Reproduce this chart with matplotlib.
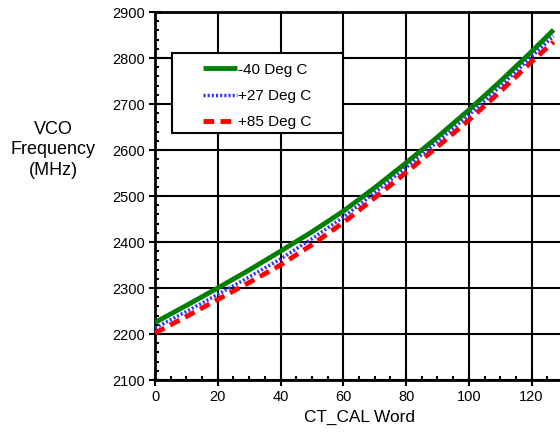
import matplotlib
matplotlib.use("Agg")
import matplotlib.pyplot as plt
from matplotlib.ticker import MultipleLocator
from matplotlib.patches import Rectangle

ct_cal = [0, 10, 20, 30, 40, 50, 60, 70, 80, 90, 100, 110, 120, 127]
f_m40 = [2225, 2262, 2300, 2339, 2380, 2422, 2467, 2518, 2572, 2628, 2687, 2749, 2814, 2861]
f_p27 = [2213, 2249, 2286, 2324, 2363, 2407, 2454, 2507, 2562, 2618, 2676, 2738, 2803, 2848]
f_p85 = [2202, 2238, 2275, 2312, 2350, 2394, 2442, 2496, 2551, 2607, 2665, 2727, 2792, 2835]
labels = ["-40 Deg C", "+27 Deg C", "+85 Deg C"]

plt.rcParams['font.family'] = ['Liberation Sans', 'DejaVu Sans']

fig = plt.figure(figsize=(5.6, 4.38), dpi=100)
ax = fig.add_axes([155/560, 1-380/438, 408/560, 368/438])

ax.plot(ct_cal, f_m40, color='#008000', lw=3.5, solid_capstyle='butt', label=labels[0], zorder=5)
ax.plot(ct_cal, f_p27, color='#3333ff', lw=2.5, ls=(0, (0.6, 0.6)), label=labels[1], zorder=4)
ax.plot(ct_cal, f_p85, color='#ff0000', lw=3.5, ls=(0, (2.2, 1.3)), label=labels[2], zorder=3)

ax.set_xlim(0, 130)
ax.set_ylim(2100, 2900)
ax.xaxis.set_major_locator(MultipleLocator(20))
ax.xaxis.set_minor_locator(MultipleLocator(5))
ax.yaxis.set_major_locator(MultipleLocator(100))
ax.yaxis.set_minor_locator(MultipleLocator(20))
ax.set_xticks([0, 20, 40, 60, 80, 100, 120])
ax.grid(True, which='major', color='black', lw=1.5, zorder=0)
ax.set_axisbelow(True)
for s in ax.spines.values():
    s.set_linewidth(2)
    s.set_color('black')
ax.spines['right'].set_visible(False)

ax.tick_params(which='major', direction='inout', length=8, width=1.5, labelsize=10.5, colors='black')
ax.tick_params(which='minor', direction='in', length=3, width=1.5)

ax.set_xlabel("CT_CAL Word", fontsize=12.4, labelpad=4)
fig.text(53/560, 1-150/438, "VCO\nFrequency\n(MHz)", ha='center', va='center', fontsize=13, linespacing=1.3)

# legend frame
ax.add_patch(Rectangle((0.0417, 0.671), 0.4191, 0.218, transform=ax.transAxes,
                       facecolor='white', edgecolor='black', lw=1.5, zorder=9))
leg = ax.legend(loc='upper left', bbox_to_anchor=(0.1176, 0.862), fontsize=11, frameon=False,
                handlelength=2.2, handletextpad=0.1, borderpad=0,
                labelspacing=0.8, borderaxespad=0)
leg.set_zorder(10)

fig.savefig("out.png", dpi=100)
